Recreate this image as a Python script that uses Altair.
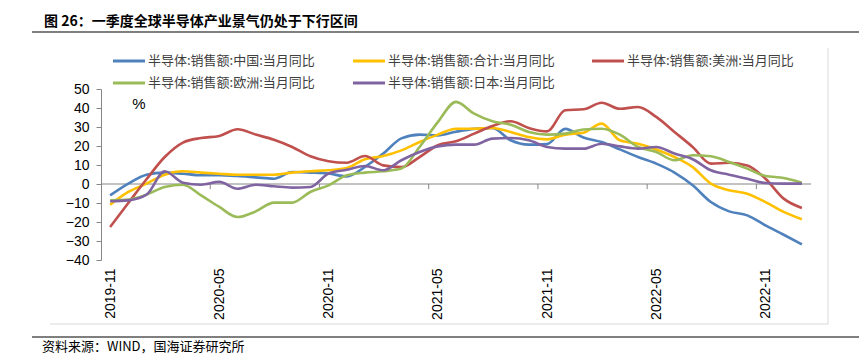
import altair as alt
import pandas as pd

# ---------------- data ----------------
month_labels = [f"{y}-{m:02d}" for y, m in
                [(2019, 11), (2019, 12)] + [(yy, mm) for yy in (2020, 2021, 2022) for mm in range(1, 13)] + [(2023, 1)]]

tick_labels = ["2019-11", "2020-05", "2020-11", "2021-05", "2021-11", "2022-05", "2022-11"]
tick_index = [0, 6, 12, 18, 24, 30, 36]
y_ticks = [-40, -30, -20, -10, 0, 10, 20, 30, 40, 50]

series_names = [
    "半导体:销售额:中国:当月同比",
    "半导体:销售额:合计:当月同比",
    "半导体:销售额:美洲:当月同比",
    "半导体:销售额:欧洲:当月同比",
    "半导体:销售额:日本:当月同比",
]
series_colors = ["#4F81BD", "#FFC000", "#C0504D", "#9BBB59", "#8064A2"]

china = [-6, 0.2, 4.9, 6, 5.4, 4.6, 4.6, 4.2, 3.5, 2.8, 6.3, 6, 5.5,
         4, 9, 16, 24, 26, 25.6, 27.5, 29, 29.5, 23, 20.7, 21, 29, 24.5,
         22.1, 18.2, 14.2, 10.7, 6, -0.7, -9.5, -14.4, -16.5, -21.8, -26.7, -31.8]
total = [-10.9, -4.2, 0.2, 4.9, 6.7, 6, 5.4, 4.9, 4.9, 4.9, 6, 6.7, 7.2,
         8.4, 13, 14.7, 17.7, 22.1, 26, 29.1, 29.1, 29.5, 27.4, 24.7, 23.5, 26, 27,
         31.8, 23, 21.2, 18.2, 14.2, 8.9, 0.2, -3.3, -5.1, -9.5, -14.7, -18.6]
americas = [-22.6, -10, 2.5, 14.2, 21.8, 24.2, 25.3, 28.8, 26, 23.3, 19.5, 14.6, 12,
            11.2, 14.7, 9.8, 8.9, 14.2, 20.4, 22.5, 26.5, 30.5, 33, 29.5, 27.7, 38.8, 39.3,
            42.8, 39.6, 40.5, 35.3, 27.4, 19.5, 10.7, 11.2, 9.8, 2.8, -7.7, -12.6]
europe = [-8.6, -8.2, -5.6, -1.6, -0.4, -6, -12.1, -17.4, -14.4, -9.8, -9.8, -4.2, -0.7,
          4.6, 6, 6.7, 8.1, 19.5, 32.6, 43.2, 37, 33, 31.2, 27.4, 26, 26.5, 28.7,
          29.1, 26, 19.5, 16.8, 12.5, 15.1, 14.6, 11.6, 8.1, 4.2, 3.2, 0.7]
japan = [-9.1, -8.6, -5.6, 6.7, 0.7, -0.4, 1.1, -2.5, -0.4, -1.2, -1.9, -1.6, 5.5,
         7.5, 9.5, 7.2, 12.5, 16.8, 19.8, 20.7, 20.7, 23.9, 24.2, 23, 19.5, 18.6, 18.6,
         21.2, 19.8, 18.6, 19.5, 16, 13, 7.2, 4.9, 2.8, 0.5, 0.2, 0.2]
series_values = [china, total, americas, europe, japan]

# ---------------- style ----------------
W, H = 710, 171
NUM_FONT = "Liberation Sans"
CJK_FONT = "Noto Sans CJK SC"
AXIS_GRAY = "#868686"

label_expr = "{" + ",".join(f"'{i}':'{t}'" for i, t in zip(tick_index, tick_labels)) + "}[datum.value]"

x_scale = alt.Scale(domain=[-0.5, len(month_labels) - 0.5], nice=False, zero=False)
y_scale = alt.Scale(domain=[-40, 50], nice=False, zero=False)

x_axis = alt.Axis(values=tick_index, labelExpr=label_expr, labelAngle=270, ticks=False, domain=False,
                  grid=False, title=None, labelFont=NUM_FONT, labelFontSize=14, labelColor="#000000",
                  labelPadding=8, labelFlush=False, labelOverlap=False)
y_axis = alt.Axis(values=y_ticks, grid=False, title=None, domainColor=AXIS_GRAY, tickColor=AXIS_GRAY,
                  tickSize=5, labelPadding=7, labelFont=NUM_FONT, labelFontSize=14, labelColor="#000000")


def xenc(field="i"):
    return alt.X(f"{field}:Q", scale=x_scale, axis=x_axis)


def yenc(field="v"):
    return alt.Y(f"{field}:Q", scale=y_scale, axis=y_axis)


one = pd.DataFrame({"a": [0]})

layers = []

# zero axis line and its ticks
zero_df = pd.DataFrame({"x0": [-0.5], "x1": [len(month_labels) - 0.5], "v": [0]})
layers.append(alt.Chart(zero_df).mark_rule(color=AXIS_GRAY, strokeWidth=1).encode(
    x=xenc("x0"), x2="x1:Q", y=yenc("v")))
tick_df = pd.DataFrame({"i": [t - 0.5 for t in tick_index[1:]], "v": [0] * 6, "v2": [-2.7] * 6})
layers.append(alt.Chart(tick_df).mark_rule(color=AXIS_GRAY, strokeWidth=1).encode(
    x=xenc("i"), y=yenc("v"), y2="v2:Q"))

# series lines
for name, color, vals in zip(series_names, series_colors, series_values):
    df = pd.DataFrame({"i": list(range(len(vals))), "v": vals, "month": month_labels, "s": name})
    layers.append(alt.Chart(df).mark_line(color=color, strokeWidth=2.6, interpolate="monotone").encode(
        x=xenc("i"), y=yenc("v"), tooltip=["s:N", "month:N", "v:Q"]))

# legend (manual, Excel-like)
leg_cols = [12, 252, 491]
leg_rows = [-28, -6]
for k, (name, color) in enumerate(zip(series_names, series_colors)):
    cx = leg_cols[k % 3]
    cy = leg_rows[k // 3]
    layers.append(alt.Chart(one).mark_rule(color=color, strokeWidth=3).encode(
        x=alt.value(cx), x2=alt.value(cx + 32), y=alt.value(cy)))
    layers.append(alt.Chart(pd.DataFrame({"t": [name]})).mark_text(
        align="left", baseline="middle", font=CJK_FONT, fontSize=13, color="#404040").encode(
        x=alt.value(cx + 35), y=alt.value(cy), text="t:N"))

# unit label
layers.append(alt.Chart(pd.DataFrame({"t": ["%"]})).mark_text(
    align="center", baseline="middle", font=NUM_FONT, fontSize=15, color="#000000").encode(
    x=alt.value(38), y=alt.value(15), text="t:N"))

# title, frame lines, source
layers.append(alt.Chart(pd.DataFrame({"t": ["图 26：一季度全球半导体产业景气仍处于下行区间"]})).mark_text(
    align="left", baseline="middle", font=CJK_FONT, fontSize=14, fontWeight="bold", color="#000000").encode(
    x=alt.value(-57), y=alt.value(-67), text="t:N"))
layers.append(alt.Chart(one).mark_rule(color="#000000", strokeWidth=1.2).encode(
    x=alt.value(-69), x2=alt.value(758), y=alt.value(-57)))
layers.append(alt.Chart(one).mark_rule(color="#D9D9D9", strokeWidth=1).encode(
    x=alt.value(-51), x2=alt.value(727), y=alt.value(235)))
layers.append(alt.Chart(one).mark_rule(color="#D9D9D9", strokeWidth=1).encode(
    x=alt.value(727), y=alt.value(-41), y2=alt.value(235)))
layers.append(alt.Chart(one).mark_rule(color="#000000", strokeWidth=1.2).encode(
    x=alt.value(-69), x2=alt.value(758), y=alt.value(248)))
layers.append(alt.Chart(pd.DataFrame({"t": ["资料来源：WIND，国海证券研究所"]})).mark_text(
    align="left", baseline="middle", font=CJK_FONT, fontSize=13, color="#000000").encode(
    x=alt.value(-59), y=alt.value(258), text="t:N"))

chart = alt.layer(*layers).properties(
    width=W, height=H,
    autosize=alt.AutoSizeParams(type="none"),
    padding={"left": 93, "top": 81, "right": 48, "bottom": 96},
    background="#FFFFFF",
).configure_view(stroke=None)

chart.save("out.html", embed_options={"renderer": "svg", "actions": False})
